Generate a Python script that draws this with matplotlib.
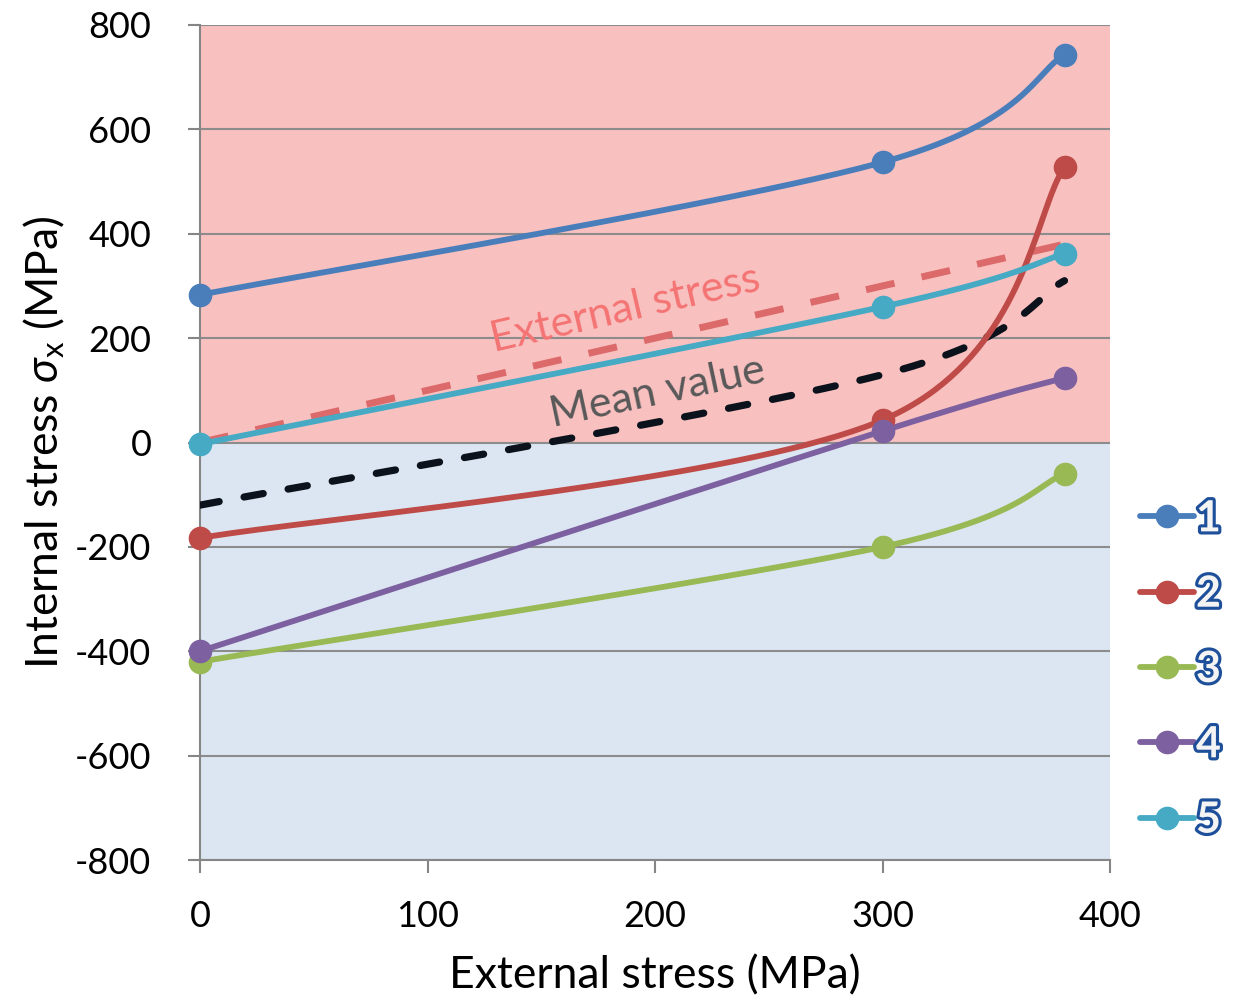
import numpy as np
import matplotlib
matplotlib.use("Agg")
import matplotlib.pyplot as plt
import matplotlib.patheffects as pe
from matplotlib.lines import Line2D

plt.rcParams['font.family'] = ['Lato', 'DejaVu Sans']
plt.rcParams['mathtext.fontset'] = 'custom'
plt.rcParams['mathtext.rm'] = 'Lato'
plt.rcParams['mathtext.it'] = 'Lato:italic'
plt.rcParams['axes.unicode_minus'] = False

# data
ext_stress = [0, 300, 380]
series_labels = ['1', '2', '3', '4', '5']
s1 = [283, 537, 743]
s2 = [-183, 43, 527]
s3 = [-420, -200, -60]
s4 = [-400, 22, 124]
s5 = [-3, 260, 362]
mean_x = [0, 300, 380]
mean_y = [-120, 130, 310]
ext_line_x = [0, 380]
ext_line_y = [0, 380]

colors = ['#4a7ebb', '#be4b48', '#98b954', '#7d60a0', '#46aac5']


def smooth(xs, ys, n=80):
    """ Excel-like smoothed line (bezier through the points) """
    P = np.column_stack([xs, ys]).astype(float)
    out = []
    for i in range(len(P) - 1):
        p0, p3 = P[i], P[i + 1]
        prev = P[i - 1] if i > 0 else P[i]
        nxt = P[i + 2] if i + 2 < len(P) else P[i + 1]
        c1 = p0 + (p3 - prev) / 6
        c2 = p3 - (nxt - p0) / 6
        t = np.linspace(0, 1, n)[:, None]
        seg = (1 - t) ** 3 * p0 + 3 * (1 - t) ** 2 * t * c1 + 3 * (1 - t) * t ** 2 * c2 + t ** 3 * p3
        out.append(seg if i == 0 else seg[1:])
    pts = np.vstack(out)
    return pts[:, 0], pts[:, 1]


fig = plt.figure(figsize=(12.36, 10), dpi=100)
ax = fig.add_axes([200 / 1236, 140 / 1000, 910 / 1236, 835 / 1000])
ax.set_xlim(0, 400)
ax.set_ylim(-800, 800)

# background zones (tension / compression)
ax.axhspan(0, 800, facecolor='#f9c0c0', lw=0, zorder=0)
ax.axhspan(-800, 0, facecolor='#dce6f3', lw=0, zorder=0)

ax.grid(axis='y', color='#8c8c8c', lw=1.5, zorder=1)
ax.set_axisbelow(True)

# external stress reference line
ax.plot(ext_line_x, ext_line_y, color='#dc6a6a', lw=5, dashes=(4.2, 4.0), zorder=2)
# mean value
mx, my = smooth(mean_x, mean_y)
ax.plot(mx, my, color='#0b121c', lw=5.2, dashes=(2.7, 3.5), dash_capstyle='round', zorder=3)

handles = []
for vals, c, lab in zip([s1, s2, s3, s4, s5], colors, series_labels):
    sx, sy = smooth(ext_stress, vals)
    ax.plot(sx, sy, color=c, lw=4.2, solid_capstyle='round', zorder=4)
    ax.plot(ext_stress, vals, 'o', color=c, ms=16, zorder=5, clip_on=False)
    handles.append(Line2D([], [], color=c, lw=4.2, marker='o', ms=16, solid_capstyle='round'))

ax.text(187, 256, 'External stress', color='#f47474', fontsize=31, rotation=13,
        ha='center', va='center', zorder=6)
ax.text(201, 95, 'Mean value', color='#595959', fontsize=31, rotation=12,
        ha='center', va='center', zorder=6)

for side in ['top', 'right']:
    ax.spines[side].set_visible(False)
for side in ['left', 'bottom']:
    ax.spines[side].set_color('#868686')
    ax.spines[side].set_linewidth(1.5)

ax.set_xticks([0, 100, 200, 300, 400])
ax.set_yticks(np.arange(-800, 801, 200))
ax.tick_params(axis='both', direction='out', color='#868686', width=1.5, length=9,
               labelsize=26)
ax.tick_params(axis='y', pad=26)
ax.tick_params(axis='x', pad=20)

ax.set_xlabel('External stress (MPa)', fontsize=32, labelpad=16)
ax.set_ylabel(r'Internal stress $\mathit{\sigma}_{\mathrm{x}}$ (MPa)', fontsize=32, labelpad=6)

leg = ax.legend(handles, series_labels, loc='center left', bbox_to_anchor=(1140 / 1236, 0.331),
                bbox_transform=fig.transFigure, frameon=False, fontsize=31,
                handlelength=1.25, handletextpad=0.05, labelspacing=0.82, borderpad=0,
                borderaxespad=0)
for t in leg.get_texts():
    t.set_fontweight('bold')
    t.set_color('#f4f4f4')
    t.set_path_effects([pe.withStroke(linewidth=4.5, foreground='#1d4f9a')])

fig.savefig('out.png', dpi=100)
